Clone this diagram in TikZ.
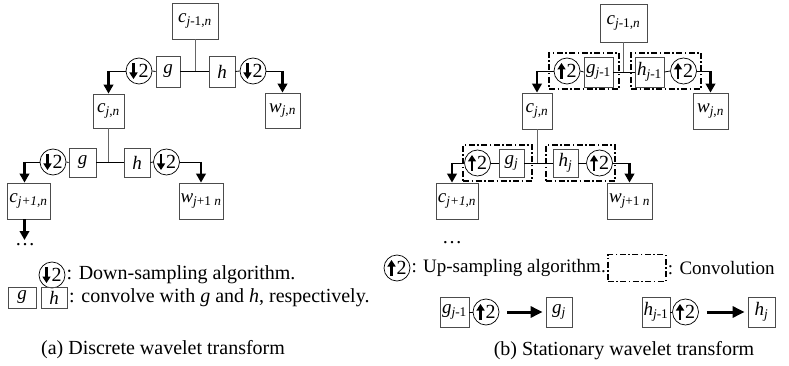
\documentclass[tikz,border=0pt]{standalone}
\usepackage{fontspec}
\setmainfont{Liberation Serif}
\usetikzlibrary{arrows.meta,positioning}

% coefficient with subscript, e.g. \vsub{c}{\textit{j},\textit{n}}
\newcommand{\vsub}[2]{\textit{#1}\textsubscript{#2}}

\tikzset{
  blk/.style={draw=black!70, line width=0.8pt, inner sep=0pt, font=\fontsize{19}{22}\selectfont},
  samp/.style={circle, draw, line width=0.7pt, minimum size=26pt, inner sep=0pt, font=\fontsize{20}{22}\selectfont},
  dn/.style={samp, path picture={\draw[line width=2.2pt,-{Triangle[length=6.5pt,width=8pt]}]
      ([xshift=-5.5pt,yshift=8pt]path picture bounding box.center) -- ++(0,-16pt);}},
  up/.style={samp, path picture={\draw[line width=2.2pt,-{Triangle[length=6.5pt,width=8pt]}]
      ([xshift=-5.5pt,yshift=-8pt]path picture bounding box.center) -- ++(0,16pt);}},
  conv/.style={draw, line width=1.8pt, dash pattern=on 6pt off 2.5pt on 1.5pt off 2.5pt, inner sep=0pt},
  wire/.style={line width=0.8pt},
  stem/.style={black!60, line width=0.8pt},
  arr/.style={line width=2.6pt, -{Triangle[length=9pt,width=9.5pt]}},
  keyarr/.style={line width=3pt, -{Triangle[length=12pt,width=11pt]}},
  txt/.style={font=\fontsize{20}{24}\selectfont, inner sep=0pt},
  keytxt/.style={font=\fontsize{19}{23}\selectfont, inner sep=0pt}
}

\begin{document}
\begin{tikzpicture}[x=1pt,y=-1pt]
\useasboundingbox (0,0) rectangle (789,366);

%% (a) discrete wavelet transform
\node[blk, minimum width=46pt, minimum height=36pt] (cA) at (195,21) {\vsub{c}{\textit{j}-1,\textit{n}}};
\node[blk, minimum width=24pt, minimum height=31pt] (gA) at (168,71.5) {\textit{g}};
\node[blk, minimum width=26pt, minimum height=31pt] (hA) at (222,71.5) {\textit{h}};
\node[dn] (dA) at (139,71) {\hspace*{9pt}2};
\node[dn] (dB) at (253,71) {\hspace*{9pt}2};
\node[blk, minimum width=31pt, minimum height=34pt] (cB) at (108.5,111) {\vsub{c}{\textit{j},\textit{n}}};
\node[blk, minimum width=35pt, minimum height=35pt] (wB) at (282.5,110.5) {\vsub{w}{\textit{j},\textit{n}}};

\draw[stem] (cA.south) -- (cA.south |- gA.east);
\draw[wire] (gA.east) -- (hA.west);
\draw[wire] (dA.east) -- (gA.west);
\draw[wire] (hA.east) -- (dB.west);
\draw[wire] (dA.west) -- (dA.west -| cB.north);
\draw[arr] (dA.west -| cB.north) -- (cB.north);
\draw[wire] (dB.east) -- (dB.east -| wB.north);
\draw[arr] (dB.east -| wB.north) -- (wB.north);

\node[blk, minimum width=27pt, minimum height=29pt] (gB) at (82.5,162.5) {\textit{g}};
\node[blk, minimum width=26pt, minimum height=29pt] (hB) at (137,162.5) {\textit{h}};
\node[dn] (dC) at (53,162) {\hspace*{9pt}2};
\node[dn] (dD) at (166.5,162) {\hspace*{9pt}2};
\node[blk, minimum width=43pt, minimum height=36pt] (cC) at (28.5,201) {\vsub{c}{\textit{j+1,n}}};
\node[blk, minimum width=44pt, minimum height=36pt] (wC) at (201,201) {\vsub{w}{\textit{j}+1 \textit{n}}};
\coordinate (kC) at ([xshift=-4pt]cC.north);

\draw[stem] (cB.south) -- (cB.south |- gB.east);
\draw[wire] (gB.east) -- (hB.west);
\draw[wire] (dC.east) -- (gB.west);
\draw[wire] (hB.east) -- (dD.west);
\draw[wire] (dC.west) -- (dC.west -| kC);
\draw[arr] (dC.west -| kC) -- (kC);
\draw[wire] (dD.east) -- (dD.east -| wC.north);
\draw[arr] (dD.east -| wC.north) -- (wC.north);

\node[txt, anchor=north] (dotsA) at (25,243) {\dots};
\draw[arr, shorten >=3pt] (kC |- cC.south) -- (kC |- dotsA.north);

% key
\node[dn] (dKey) at (52,275) {\hspace*{9pt}2};
\node[txt, right=1pt of dKey] (dnTxt) {: Down-sampling algorithm.};
\node[blk, minimum width=28pt, minimum height=21pt] (gKey) at (22,297.5) {\textit{g}};
\node[blk, minimum width=26pt, minimum height=21pt] (hKey) at (54,297.5) {\textit{h}};
\node[txt, anchor=west] (cvTxt) at (69,297.5) {: convolve with \textit{g} and \textit{h}, respectively.};
\node[txt] (capA) at (163,350) {(a) Discrete wavelet transform};

%% (b) stationary wavelet transform
\node[blk, minimum width=47pt, minimum height=38pt] (cA2) at (623.5,23) {\vsub{c}{\textit{j}-1,\textit{n}}};
\node[conv, minimum width=70pt, minimum height=36pt] (cvL1) at (584,71) {};
\node[conv, minimum width=70pt, minimum height=36pt] (cvR1) at (666,71) {};
\node[up] (uA) at (567,71) {\hspace*{9pt}2};
\node[blk, minimum width=29pt, minimum height=30pt] (gA2) at (598.5,72) {\vsub{g}{\textit{j}-1}};
\node[blk, minimum width=29pt, minimum height=30pt] (hA2) at (649.5,72) {\vsub{h}{\textit{j}-1}};
\node[up] (uB) at (683.5,71) {\hspace*{9pt}2};
\node[blk, minimum width=30pt, minimum height=36pt] (cB2) at (537,111) {\vsub{c}{\textit{j},\textit{n}}};
\node[blk, minimum width=35pt, minimum height=36pt] (wB2) at (710.5,111) {\vsub{w}{\textit{j},\textit{n}}};

\draw[stem] (cA2.south) -- (cA2.south |- gA2.east);
\draw[wire] (gA2.east) -- (hA2.west);
\draw[wire] (uA.east) -- (gA2.west);
\draw[wire] (hA2.east) -- (uB.west);
\draw[wire] (uA.west) -- (uA.west -| cB2.north);
\draw[arr] (uA.west -| cB2.north) -- (cB2.north);
\draw[wire] (uB.east) -- (uB.east -| wB2.north);
\draw[arr] (uB.east -| wB2.north) -- (wB2.north);

\node[conv, minimum width=69pt, minimum height=36pt] (cvL2) at (497.5,163) {};
\node[conv, minimum width=69pt, minimum height=36pt] (cvR2) at (580.5,163) {};
\node[up] (uC) at (477.5,163) {\hspace*{9pt}2};
\node[blk, minimum width=25pt, minimum height=28pt] (gB2) at (511.5,163) {\vsub{g}{\textit{j}}};
\node[blk, minimum width=25pt, minimum height=28pt] (hB2) at (565.5,163) {\vsub{h}{\textit{j}}};
\node[up] (uD) at (599.5,163) {\hspace*{9pt}2};
\node[blk, minimum width=42pt, minimum height=36pt] (cC2) at (457,201) {\vsub{c}{\textit{j+1,n}}};
\node[blk, minimum width=45pt, minimum height=36pt] (wC2) at (629.5,201) {\vsub{w}{\textit{j}+1 \textit{n}}};
\coordinate (kC2) at ([xshift=-5pt]cC2.north);

\draw[stem] (cB2.south) -- (cB2.south |- gB2.east);
\draw[wire] (gB2.east) -- (hB2.west);
\draw[wire] (uC.east) -- (gB2.west);
\draw[wire] (hB2.east) -- (uD.west);
\draw[wire] (uC.west) -- (uC.west -| kC2);
\draw[arr] (uC.west -| kC2) -- (kC2);
\draw[wire] (uD.east) -- (uD.east -| wC2.north);
\draw[arr] (uD.east -| wC2.north) -- (wC2.north);

\node[txt, anchor=north] (dotsB) at (452,241) {\dots};

% key
\node[up] (uKey) at (397,268) {\hspace*{9pt}2};
\node[keytxt, right=1pt of uKey] (upTxt) {: Up-sampling algorithm.};
\node[conv, minimum width=58pt, minimum height=27pt, right=1pt of upTxt] (convKey) {};
\node[keytxt, right=1pt of convKey] (convTxt) {: Convolution};

\node[blk, minimum width=29pt, minimum height=30pt] (gK1) at (454.5,312) {\vsub{g}{\textit{j}-1}};
\node[up] (uK1) at (486,312) {\hspace*{9pt}2};
\node[blk, minimum width=26pt, minimum height=30pt] (gK2) at (559,312) {\vsub{g}{\textit{j}}};
\draw[wire] (gK1.east) -- (uK1.west);
\draw[keyarr] ([xshift=8pt]uK1.east) -- ([xshift=-3pt]gK2.west);

\node[blk, minimum width=28pt, minimum height=30pt] (hK1) at (656,312) {\vsub{h}{\textit{j}-1}};
\node[up] (uK2) at (685.5,312) {\hspace*{9pt}2};
\node[blk, minimum width=27pt, minimum height=30pt] (hK2) at (761.5,312) {\vsub{h}{\textit{j}}};
\draw[wire] (hK1.east) -- (uK2.west);
\draw[keyarr] ([xshift=8pt]uK2.east) -- ([xshift=-3pt]hK2.west);

\node[txt] (capB) at (624,351) {(b) Stationary wavelet transform};
\end{tikzpicture}
\end{document}
